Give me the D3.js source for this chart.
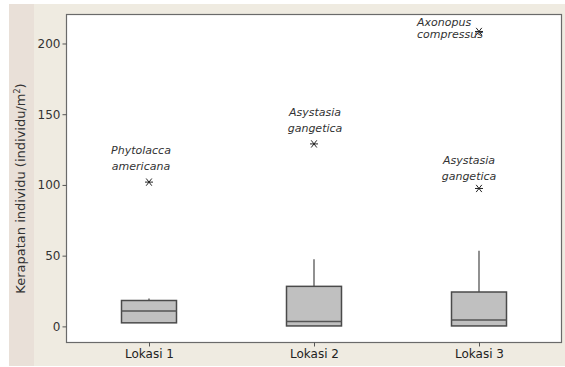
<!DOCTYPE html>
<html><head><meta charset="utf-8">
<script src="https://cdn.jsdelivr.net/npm/d3@7"></script>
<style>body{margin:0;background:#fff;}svg{display:block;}</style>
</head><body>
<script>
const categories = ["Lokasi 1", "Lokasi 2", "Lokasi 3"];
const q1 = [2.5, 0.3, 0.3];
const medians = [10.8, 3.5, 4.5];
const q3 = [18.3, 28.3, 24.3];
const whiskerLow = [2.5, 0.3, 0.3];
const whiskerHigh = [19.7, 47.5, 53.5];
const outliers = [
  {cat: "Lokasi 1", value: 102, label: ["Phytolacca", "americana"]},
  {cat: "Lokasi 2", value: 129, label: ["Asystasia", "gangetica"]},
  {cat: "Lokasi 3", value: 97.5, label: ["Asystasia", "gangetica"]},
  {cat: "Lokasi 3", value: 208.5, label: ["Axonopus", "compressus"]}
];
const yTicks = [0, 50, 100, 150, 200];

const W = 565, H = 367;
const svg = d3.select("body").append("svg").attr("width", W).attr("height", H);
svg.append("rect").attr("x", 9).attr("y", 4).attr("width", W - 9).attr("height", 362).attr("fill", "#efebe1");
svg.append("rect").attr("x", 9).attr("y", 4).attr("width", 25).attr("height", 362).attr("fill", "#e9e0d8");

const L = 66.5, R = 561.5, T = 14.5, B = 342.5;
const x = d3.scalePoint().domain(categories).range([L, R]).padding(0.5);
const y = d3.scaleLinear().domain([-11.4, 220.5]).range([B, T]);

svg.append("rect").attr("x", L).attr("y", T).attr("width", R - L).attr("height", B - T)
  .attr("fill", "#fff").attr("stroke", "#6a6a6a").attr("stroke-width", 1.2);

const font = "Tahoma, 'DejaVu Sans', Verdana, sans-serif";

const yAxis = svg.append("g").attr("transform", `translate(${L},0)`)
  .call(d3.axisLeft(y).tickValues(yTicks).tickSize(4).tickPadding(2));
yAxis.select(".domain").remove();
yAxis.selectAll("line").attr("stroke", "#555");
yAxis.selectAll("text").attr("font-family", font).attr("font-size", 12).attr("fill", "#333");

const xAxis = svg.append("g").attr("transform", `translate(0,${B})`)
  .call(d3.axisBottom(x).tickSize(4).tickPadding(3));
xAxis.select(".domain").remove();
xAxis.selectAll("line").attr("stroke", "#555");
xAxis.selectAll("text").attr("font-family", font).attr("font-size", 12).attr("fill", "#222");

const bw = 55;
const g = svg.append("g");
categories.forEach((c, i) => {
  const cx = x(c);
  g.append("line").attr("x1", cx).attr("x2", cx).attr("y1", y(q3[i])).attr("y2", y(whiskerHigh[i]))
    .attr("stroke", "#555").attr("stroke-width", 1.3);
  g.append("line").attr("x1", cx).attr("x2", cx).attr("y1", y(q1[i])).attr("y2", y(whiskerLow[i]))
    .attr("stroke", "#555").attr("stroke-width", 1.3);
  g.append("rect").attr("x", cx - bw / 2).attr("y", y(q3[i])).attr("width", bw)
    .attr("height", y(q1[i]) - y(q3[i])).attr("fill", "#c0c0c0").attr("stroke", "#4a4a4a").attr("stroke-width", 1.5);
  g.append("line").attr("x1", cx - bw / 2).attr("x2", cx + bw / 2).attr("y1", y(medians[i])).attr("y2", y(medians[i]))
    .attr("stroke", "#555").attr("stroke-width", 1.5);
});

const star = d3.symbol().type(d3.symbolAsterisk).size(40);
outliers.forEach(o => {
  const cx = x(o.cat), cy = y(o.value);
  // asterisk drawn as lines
  const s = 4;
  const sg = svg.append("g").attr("transform", `translate(${cx},${cy})`).attr("stroke", "#222").attr("stroke-width", 1);
  sg.append("line").attr("x1", -s).attr("x2", s).attr("y1", 0).attr("y2", 0);
  sg.append("line").attr("x1", -s * 0.7).attr("x2", s * 0.7).attr("y1", -s * 0.9).attr("y2", s * 0.9);
  sg.append("line").attr("x1", s * 0.7).attr("x2", -s * 0.7).attr("y1", -s * 0.9).attr("y2", s * 0.9);
});

const lab = svg.append("g").attr("font-family", font).attr("font-style", "italic").attr("font-size", 11).attr("fill", "#333");
// label placements relative to outlier points
const labelPos = [
  {dx: -8, dy1: -28, dy2: -12, anchor: "middle"},
  {dx: 1, dy1: -28, dy2: -12, anchor: "middle"},
  {dx: -10, dy1: -24, dy2: -8, anchor: "middle"},
  {dx: -62, dy1: -5, dy2: 7, anchor: "start"}
];
outliers.forEach((o, i) => {
  const p = labelPos[i];
  const cx = x(o.cat), cy = y(o.value);
  lab.append("text").attr("x", cx + p.dx).attr("y", cy + p.dy1).attr("text-anchor", p.anchor).text(o.label[0]);
  lab.append("text").attr("x", cx + p.dx).attr("y", cy + p.dy2).attr("text-anchor", p.anchor).text(o.label[1]);
});

const t = svg.append("text").attr("transform", `translate(25,${(T + B) / 2 + 10}) rotate(-90)`)
  .attr("text-anchor", "middle").attr("font-family", font).attr("font-size", 13).attr("fill", "#333");
t.append("tspan").text("Kerapatan  individu (individu/m");
t.append("tspan").attr("font-size", 8).attr("dy", -5).text("2");
t.append("tspan").attr("dy", 5).text(")");
</script>
</body></html>
